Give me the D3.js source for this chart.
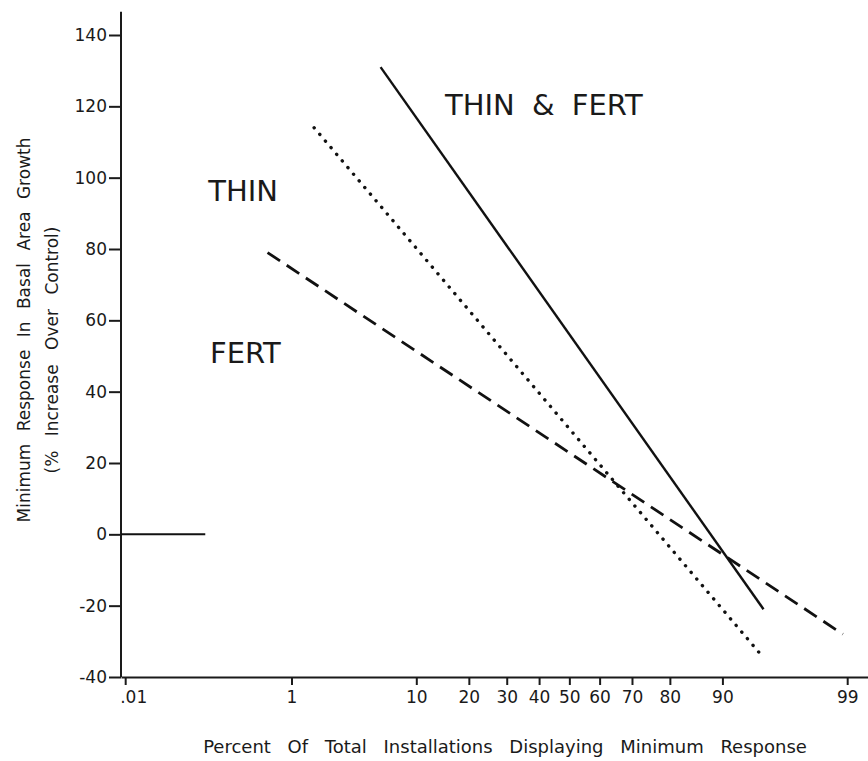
<!DOCTYPE html>
<html>
<head>
<meta charset="utf-8">
<script src="https://cdn.jsdelivr.net/npm/d3@7"></script>
<style>
  body { margin: 0; background: #fff; }
  svg { display: block; font-family: "DejaVu Sans", sans-serif; }
  .axis path, .axis line { stroke: #1a1a1a; stroke-width: 2px; }
</style>
</head>
<body>
<div class="container"></div>
<script>
var w = 868;
var h = 761;

// x axis (probability scale, in percent)
var percentTicks = [0.01, 1, 10, 20, 30, 40, 50, 60, 70, 80, 90, 99];
var percentLabels = [".01", "1", "10", "20", "30", "40", "50", "60", "70", "80", "90", "99"];
var percentLimits = [0.0087, 99.38];

// y axis
var yTicks = [-40, -20, 0, 20, 40, 60, 80, 100, 120, 140];
var yLimits = [-40, 140];
var yAxisTop = 146.5;

// series: end points [percent, response]
var seriesNames = ["THIN & FERT", "THIN", "FERT"];
var thinFertPct = [5.7, 94.8];
var thinFertVal = [131, -21];
var thinPct = [1.63, 94.5];
var thinVal = [114, -33.5];
var fertPct = [0.575, 98.9];
var fertVal = [79, -28];
var zeroPct = [0.0087, 0.115];
var zeroVal = [0, 0];

// label anchors [percent, response]
var labelPct = [14.9, 0.125, 0.131];
var labelVal = [117.6, 93.5, 48.1];

// inverse normal cdf (Acklam)
function probit(p) {
  var a = [-39.69683028665376, 220.9460984245205, -275.9285104469687, 138.3577518672690, -30.66479806614716, 2.506628277459239];
  var b = [-54.47609879822406, 161.5858368580409, -155.6989798598866, 66.80131188771972, -13.28068155288572];
  var c = [-0.007784894002430293, -0.3223964580411365, -2.400758277161838, -2.549732539343734, 4.374664141464968, 2.938163982698783];
  var d = [0.007784695709041462, 0.3224671290700398, 2.445134137142996, 3.754408661907416];
  var q, r;
  if (p < 0.02425) {
    q = Math.sqrt(-2 * Math.log(p));
    return (((((c[0]*q+c[1])*q+c[2])*q+c[3])*q+c[4])*q+c[5]) / ((((d[0]*q+d[1])*q+d[2])*q+d[3])*q+1);
  }
  if (p > 1 - 0.02425) {
    q = Math.sqrt(-2 * Math.log(1 - p));
    return -(((((c[0]*q+c[1])*q+c[2])*q+c[3])*q+c[4])*q+c[5]) / ((((d[0]*q+d[1])*q+d[2])*q+d[3])*q+1);
  }
  q = p - 0.5;
  r = q * q;
  return (((((a[0]*r+a[1])*r+a[2])*r+a[3])*r+a[4])*r+a[5])*q / (((((b[0]*r+b[1])*r+b[2])*r+b[3])*r+b[4])*r+1);
}
var z = (pct) => probit(pct / 100);

var svg = d3.select(".container").append("svg")
  .attr("width", w)
  .attr("height", h);

var xScale = d3.scaleLinear().domain(percentLimits.map(z)).range([121, 868]);
var yScale = d3.scaleLinear().domain(yLimits).range([677, 35]);
var xp = (pct) => xScale(z(pct));

// axes
var xAxis = svg.append("g")
  .attr("class", "axis")
  .attr("transform", "translate(0," + yScale(yLimits[0]) + ")")
  .call(d3.axisBottom(xScale)
    .tickValues(percentTicks.map(z))
    .tickFormat((d, i) => percentLabels[i])
    .tickSize(8).tickPadding(6).tickSizeOuter(0))
  .attr("font-size", 17)
  .attr("font-family", "DejaVu Sans, sans-serif");
xAxis.selectAll(".tick text").attr("fill", "#1a1a1a");
// ".01" sits just right of its tick
xAxis.selectAll(".tick text").filter((d, i) => i === 0).attr("dx", 8);

var yAxis = svg.append("g")
  .attr("class", "axis")
  .attr("transform", "translate(" + xScale(z(percentLimits[0])) + ",0)")
  .call(d3.axisLeft(yScale).tickValues(yTicks).tickFormat((d) => String(d))
    .tickSize(12).tickPadding(2).tickSizeOuter(0))
  .attr("font-size", 17)
  .attr("font-family", "DejaVu Sans, sans-serif");
yAxis.selectAll(".tick text").attr("fill", "#1a1a1a");
yAxis.select(".domain").remove();
yAxis.append("line")
  .attr("x1", 0).attr("x2", 0)
  .attr("y1", yScale(yLimits[0])).attr("y2", yScale(yAxisTop))
  .attr("stroke", "#1a1a1a").attr("stroke-width", 2);

// lines
var line = d3.line().x((d) => xp(d[0])).y((d) => yScale(d[1]));
var series = [
  { pct: zeroPct, val: zeroVal, dash: null, width: 2, cap: "butt" },
  { pct: thinFertPct, val: thinFertVal, dash: null, width: 2.4, cap: "butt" },
  { pct: thinPct, val: thinVal, dash: "0.1,8.6", width: 3.4, cap: "round" },
  { pct: fertPct, val: fertVal, dash: "15,8", width: 2.8, cap: "butt" }
];

svg.append("g").selectAll("path").data(series).enter().append("path")
  .attr("d", (s) => line(s.pct.map((p, i) => [p, s.val[i]])))
  .attr("fill", "none")
  .attr("stroke", "#111")
  .attr("stroke-width", (s) => s.width)
  .attr("stroke-linecap", (s) => s.cap)
  .attr("stroke-dasharray", (s) => s.dash);

// series labels
svg.append("g").selectAll("text").data(seriesNames).enter().append("text")
  .attr("x", (d, i) => xp(labelPct[i]))
  .attr("y", (d, i) => yScale(labelVal[i]))
  .attr("font-size", 29)
  .attr("word-spacing", 8)
  .attr("fill", "#1a1a1a")
  .text((d) => d);

// axis titles
svg.append("text")
  .attr("x", 505).attr("y", 753)
  .attr("text-anchor", "middle")
  .attr("font-size", 18)
  .attr("word-spacing", 11)
  .attr("fill", "#1a1a1a")
  .text("Percent Of Total Installations Displaying Minimum Response");

svg.append("text")
  .attr("transform", "translate(30,330) rotate(-90)")
  .attr("text-anchor", "middle")
  .attr("font-size", 17)
  .attr("word-spacing", 7)
  .attr("fill", "#1a1a1a")
  .text("Minimum Response In Basal Area Growth");

svg.append("text")
  .attr("transform", "translate(58,350) rotate(-90)")
  .attr("text-anchor", "middle")
  .attr("font-size", 17)
  .attr("word-spacing", 9)
  .attr("fill", "#1a1a1a")
  .text("(% Increase Over Control)");
</script>
</body>
</html>
